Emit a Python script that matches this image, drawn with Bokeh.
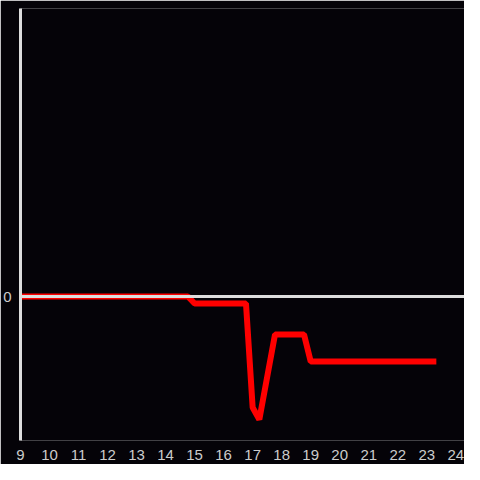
from bokeh.plotting import figure
from bokeh.models import Span, FixedTicker, Range1d
from bokeh.embed import file_html
from bokeh.resources import INLINE

# Data (hours of day, value)
hours = [9, 14.77, 15, 16.77, 17, 17.23, 17.77, 18.77, 19, 23.33]
values = [0, 0, -0.7, -0.7, -11.1, -12.3, -3.8, -3.8, -6.5, -6.5]
x_ticks = list(range(9, 25))
y_ticks = [0]

BG = "#050308"
FG = "#dddddd"
TXT = "#cccccc"

p = figure(width=464, height=464, output_backend="svg", toolbar_location=None,
           x_range=Range1d(9, 24.3), y_range=Range1d(-14.4, 28.8),
           background_fill_color=BG, border_fill_color=BG,
           min_border_left=12, min_border_right=0, min_border_top=8, min_border_bottom=24)
p.outline_line_color = None
p.grid.visible = False

p.add_layout(Span(location=0, dimension="width", line_color=FG, line_width=3))

p.line(hours, values, line_color="#ff0000", line_width=6)

p.xaxis.ticker = FixedTicker(ticks=x_ticks)
p.xaxis.axis_line_color = None
p.xaxis.major_tick_line_color = None
p.xaxis.minor_tick_line_color = None
p.xaxis.major_label_text_color = TXT
p.xaxis.major_label_text_font = "Liberation Sans"
p.xaxis.major_label_text_font_size = "15px"
p.xaxis.major_label_standoff = 3

p.yaxis.ticker = FixedTicker(ticks=y_ticks)
p.yaxis.axis_line_color = FG
p.yaxis.axis_line_width = 3
p.yaxis.major_tick_line_color = None
p.yaxis.minor_tick_line_color = None
p.yaxis.major_label_text_color = TXT
p.yaxis.major_label_text_font = "Liberation Sans"
p.yaxis.major_label_text_font_size = "15px"
p.yaxis.major_label_standoff = 3

open("out.html", "w").write(file_html(p, INLINE))
